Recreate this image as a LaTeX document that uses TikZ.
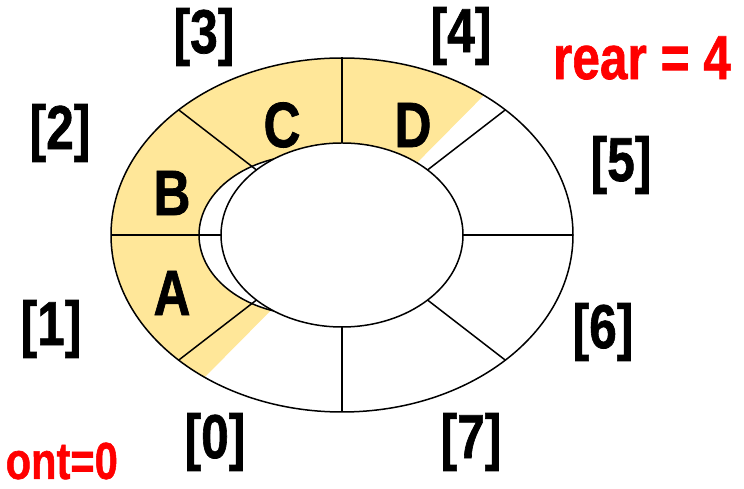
\documentclass[tikz,border=0pt]{standalone}
\usepackage{fontspec}
\setmainfont{Liberation Sans}[BoldFeatures={FakeBold=1.2}]
\definecolor{qyellow}{RGB}{255,231,153}
\definecolor{qred}{RGB}{255,0,0}
\newcommand{\narrowtxt}[1]{\scalebox{0.8}[1]{#1}}
\begin{document}
\begin{tikzpicture}[x=1pt,y=1pt,
  ring/.style={line width=1.5pt, black},
  idx/.style={font=\fontsize{62}{62}\selectfont\bfseries, inner sep=0pt},
  elem/.style={font=\fontsize{64}{64}\selectfont\bfseries, inner sep=0pt},
  ptr/.style={font=\fontsize{62}{62}\selectfont\bfseries, inner sep=0pt, text=qred}]
\useasboundingbox (0,0) rectangle (744,489);
\clip (0,0) rectangle (744,489);
% yellow occupied part
\begin{scope}
  \clip (-100,-196) -- (800,713) -- (-100,713) -- cycle;
  \fill[qyellow, even odd rule] (342,254) ellipse [x radius=231, y radius=177]
                                (308,254) ellipse [x radius=109, y radius=80];
\end{scope}
% outer ring
\draw[ring] (342,254) ellipse [x radius=231, y radius=177];
% shifted inner boundary
\draw[ring] (308,254) ellipse [x radius=109, y radius=80];
% inner hole
\draw[ring, fill=white] (342,254) ellipse [x radius=121, y radius=92];
% spokes
\foreach \a in {0,45,...,315}
  \draw[ring] ({342+121*cos(\a)},{254+92*sin(\a)}) -- ({342+231*cos(\a)},{254+177*sin(\a)});
% index labels
\node[idx] (i0) at (215,47) {\narrowtxt{[0]}};
\node[idx] (i1) at (51,160) {\narrowtxt{[1]}};
\node[idx] (i2) at (60,356) {\narrowtxt{[2]}};
\node[idx] (i3) at (204,452) {\narrowtxt{[3]}};
\node[idx] (i4) at (461,453) {\narrowtxt{[4]}};
\node[idx] (i5) at (621,324) {\narrowtxt{[5]}};
\node[idx] (i6) at (603,157) {\narrowtxt{[6]}};
\node[idx] (i7) at (471,47) {\narrowtxt{[7]}};
% elements
\node[elem] (ea) at (172,196) {\narrowtxt{A}};
\node[elem] (eb) at (172,296) {\narrowtxt{B}};
\node[elem] (ec) at (282,364) {\narrowtxt{C}};
\node[elem] (ed) at (413,364) {\narrowtxt{D}};
% pointers
\node[ptr] (rear) at (642,431) {\narrowtxt{rear = 4}};
\node[ptr, anchor=east, font=\fontsize{52}{52}\selectfont\bfseries] (front) at (118,28) {\narrowtxt{ont=0}};
\end{tikzpicture}
\end{document}
